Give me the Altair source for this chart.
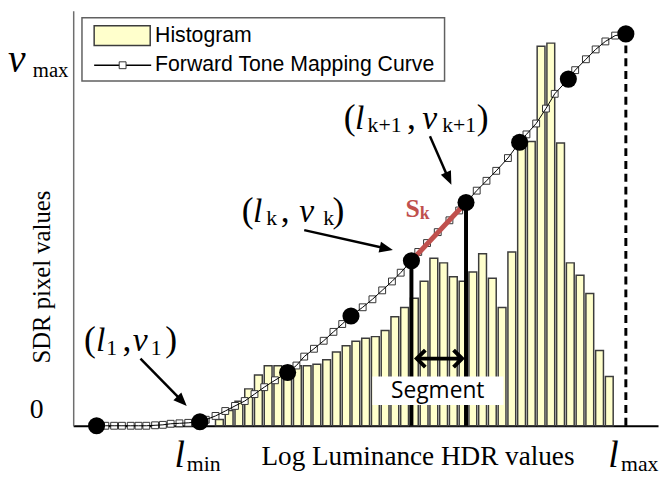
import altair as alt
import pandas as pd

# ---------------- data ----------------
# histogram: bin centres on the log-luminance axis and their heights
hist_bin = [15, 16, 17, 18, 19, 20, 21, 22, 23, 24, 25, 26, 27, 28, 29, 30, 31, 32, 33, 34,
            35, 36, 37, 38, 39, 40, 41, 42, 43, 44, 45, 46, 47, 48, 49, 50, 51, 52, 53, 54, 55]
hist_count = [4, 10, 16, 24, 33, 39, 39, 39, 39, 39, 40, 43, 48, 52, 55, 57, 58, 62, 71, 77,
              83, 94, 109, 106, 97, 94, 100, 112, 96, 77, 113, 185, 185, 247, 249, 184, 106, 98, 86, 49, 32]

# forward tone mapping curve (square markers)
curve_l = [2.4, 3.3, 4.2, 5.0, 5.9, 6.7, 7.5, 8.4, 9.2, 10.0, 10.9, 11.8, 13.0, 13.6, 14.6, 15.6,
           16.6, 17.6, 18.6, 19.6, 20.7, 22.0, 22.9, 23.7, 24.7, 25.7, 26.7, 27.6, 28.5, 29.7,
           30.7, 31.7, 32.7, 33.6, 34.7, 35.4, 36.3, 37.4, 38.6, 39.6, 40.3, 41.4, 42.4, 43.4,
           44.6, 45.8, 46.5, 47.5, 48.5, 49.4, 50.8, 51.5, 52.6, 53.6, 54.6, 55.6, 56.7]
curve_v = [0, 0, 0, 0, 0, 0, 0, 0.3, 0.6, 1.3, 1.6, 1.9, 2.6, 3.9, 6.4, 9.6, 12.9, 16.1, 20.6,
           25.1, 29.6, 34.7, 39.2, 45.0, 50.1, 55.3, 61.1, 66.2, 71.4, 77.1, 82.3, 88.1, 93.9,
           99.6, 107.4, 113.1, 118.9, 126.0, 133.7, 140.1, 145.3, 153.0, 159.4, 165.9, 174.2,
           184.5, 189.6, 196.7, 206.4, 216.0, 225.6, 231.4, 238.5, 244.9, 250.1, 253.9, 255.0]

# pivot points (big black dots)
knot_l = [2.4, 13.0, 22.0, 28.5, 34.7, 40.3, 45.8, 50.8, 56.7]
knot_v = [0, 2.6, 34.7, 71.4, 107.4, 145.3, 184.5, 225.6, 255.0]
k_index = 4

# annotation arrows: tail, shaft end, tip, head angle
arrow_tail_l = [6.9, 23.7, 36.6]
arrow_tail_v = [43.7, 127.3, 188.4]
arrow_end_l = [11.1, 32.0, 38.45]
arrow_end_v = [16.5, 115.5, 161.5]
arrow_tip_l = [11.65, 32.8, 38.8]
arrow_tip_v = [12.9, 114.4, 156.9]
arrow_angle = [135.6, 102.5, 155.8]

# segment double arrow
seg_arrow_l = [35.25, 39.9]
seg_arrow_v = 43.7

# label pieces: text, l, v, size, kind
label_t = ["v", "max", "0",
           "(", "l", "1", ",", "v", "1", ")",
           "(", "l", "k", ",", "v", "k", ")",
           "(", "l", "k+1", ",", "v", "k+1", ")",
           "l", "min", "l", "max",
           "S", "k"]
label_l = [-6.7, -4.15, -4.45,
           1.1, 2.35, 3.4, 5.05, 6.1, 7.95, 9.45,
           17.3, 18.45, 19.8, 21.3, 23.2, 25.65, 26.6,
           27.75, 28.9, 30.2, 34.25, 35.8, 37.85, 41.4,
           10.4, 11.65, 54.9, 56.2,
           34.1, 35.55]
label_v = [230.1, 226.9, 5.1,
           48.9, 48.9, 46.3, 48.9, 48.9, 46.3, 48.9,
           132.4, 132.4, 130.5, 132.4, 132.4, 130.5, 132.4,
           192.9, 192.9, 190.9, 192.9, 192.9, 190.9, 192.9,
           -27.0, -29.6, -27.0, -29.6,
           135.6, 134.4]
label_size = [40, 21, 28,
              36, 34, 22, 36, 34, 22, 36,
              36, 34, 22, 36, 34, 22, 36,
              36, 34, 22, 36, 34, 22, 36,
              38, 22, 38, 22,
              26, 18]
label_kind = ["it", "up", "up",
              "up", "it", "up", "up", "it", "up", "up",
              "up", "it", "up", "up", "it", "up", "up",
              "up", "it", "up", "up", "it", "up", "up",
              "it", "up", "it", "up",
              "red", "red"]

legend_labels = ["Histogram", "Forward Tone Mapping Curve"]
segment_label = "Segment"

# ---------------- styling ----------------
SERIF = "Liberation Serif"
SANS = "Liberation Sans"
BAR_FILL = "#FFFFCC"
BAR_STROKE = "#3C3C3C"
RED = "#C0504D"

x_scale = alt.Scale(domain=[0, 60], nice=False, zero=False)
y_scale = alt.Scale(domain=[0, 270], nice=False, zero=False)
x_axis = alt.Axis(title="Log Luminance HDR values", domain=True, domainColor="black",
                  domainWidth=2, ticks=False, labels=False, grid=False,
                  titleFont=SERIF, titleFontSize=27.5, titleFontWeight="normal",
                  titleColor="black", titleX=348.5, titleY=39, titleBaseline="alphabetic",
                  titleAlign="center")
y_axis = alt.Axis(title="SDR pixel values", domain=True, domainColor="#6E6E6E",
                  domainWidth=1.5, ticks=False, labels=False, grid=False,
                  titleFont=SERIF, titleFontSize=25, titleFontWeight="normal",
                  titleColor="black", titleAngle=270, titleX=-32, titleY=269,
                  titleBaseline="middle", titleAlign="center")


def X(f):
    return alt.X(f, type="quantitative", scale=x_scale, axis=x_axis)


def Y(f):
    return alt.Y(f, type="quantitative", scale=y_scale, axis=y_axis)


hist_df = pd.DataFrame({"l": hist_bin, "count": hist_count})
hist_df["l0"] = hist_df["l"] - 0.4
hist_df["l1"] = hist_df["l"] + 0.4
hist_df["zero"] = 0

bars = alt.Chart(hist_df).mark_rect(fill=BAR_FILL, stroke=BAR_STROKE, strokeWidth=1.5).encode(
    x=X("l0"), x2="l1", y=Y("zero"), y2="count")

curve_df = pd.DataFrame({"l": curve_l, "v": curve_v})
squares = alt.Chart(curve_df).mark_square(size=48, fill="white", stroke="#333333",
                                          strokeWidth=1, opacity=1, fillOpacity=1).encode(
    x=X("l"), y=Y("v"))
line = alt.Chart(curve_df).mark_line(color="black", strokeWidth=1).encode(
    x=X("l"), y=Y("v"), order="l:Q")

seg_df = pd.DataFrame({"l": knot_l[k_index:k_index + 2], "v": knot_v[k_index:k_index + 2]})
seg_df["zero"] = 0
vrules = alt.Chart(seg_df).mark_rule(color="black", strokeWidth=4).encode(
    x=X("l"), y=Y("zero"), y2="v")
red_seg = alt.Chart(seg_df).mark_line(color=RED, strokeWidth=5).encode(
    x=X("l"), y=Y("v"), order="l:Q")

max_df = pd.DataFrame({"l": [knot_l[-1]], "v": [knot_v[-1]], "zero": [0]})
dashed = alt.Chart(max_df).mark_rule(color="black", strokeWidth=3, strokeDash=[8, 5]).encode(
    x=X("l"), y=Y("zero"), y2="v")

knot_df = pd.DataFrame({"l": knot_l, "v": knot_v})
dots = alt.Chart(knot_df).mark_circle(size=300, color="black", opacity=1).encode(
    x=X("l"), y=Y("v"))

arrow_df = pd.DataFrame({"tl": arrow_tail_l, "tv": arrow_tail_v, "el": arrow_end_l,
                         "ev": arrow_end_v, "pl": arrow_tip_l, "pv": arrow_tip_v,
                         "ang": arrow_angle})
shafts = alt.Chart(arrow_df).mark_rule(color="black", strokeWidth=2.5).encode(
    x=X("tl"), y=Y("tv"), x2="el", y2="ev")
heads = alt.Chart(arrow_df).mark_point(shape="M0,0L0.7,1.7L-0.7,1.7Z", filled=True,
                                       color="black", size=256, opacity=1).encode(
    x=X("pl"), y=Y("pv"), angle=alt.Angle("ang:Q", scale=None))

dbl_df = pd.DataFrame({"l": seg_arrow_l, "v": [seg_arrow_v, seg_arrow_v],
                       "shape": ["M1,-1L0,0L1,1", "M-1,-1L0,0L-1,1"]})
dbl_line = alt.Chart(dbl_df).mark_line(color="black", strokeWidth=4).encode(
    x=X("l"), y=Y("v"), order="l:Q")
dbl_heads = alt.Chart(dbl_df).mark_point(filled=False, color="black", strokeWidth=4,
                                         size=300, opacity=1).encode(
    x=X("l"), y=Y("v"), shape=alt.Shape("shape:N", scale=None))

segbox_df = pd.DataFrame({"l0": [30.7], "l1": [44.15], "v0": [13.5], "v1": [32.1],
                          "lc": [37.4], "vc": [22.8], "t": [segment_label]})
seg_box = alt.Chart(segbox_df).mark_rect(fill="white").encode(
    x=X("l0"), x2="l1", y=Y("v0"), y2="v1")
seg_text = alt.Chart(segbox_df).mark_text(font="Open Sans", fontSize=23, color="black",
                                          align="center", baseline="middle").encode(
    x=X("lc"), y=Y("vc"), text="t:N")

lab_df = pd.DataFrame({"t": label_t, "l": label_l, "v": label_v, "s": label_size,
                       "kind": label_kind})


def label_layer(kind, **kw):
    return alt.Chart(lab_df).transform_filter(alt.datum.kind == kind).mark_text(
        align="left", baseline="alphabetic", **kw).encode(
        x=X("l"), y=Y("v"), text="t:N", size=alt.Size("s:Q", scale=None))


lab_it = label_layer("it", font=SERIF, fontStyle="italic", color="black")
lab_up = label_layer("up", font=SERIF, color="black")
lab_red = label_layer("red", font=SERIF, fontWeight="bold", color=RED)

# legend drawn in the top-left corner of the plot
leg_box_df = pd.DataFrame({"l0": [0.9], "l1": [38.1], "v0": [224.4], "v1": [265.5]})
leg_box = alt.Chart(leg_box_df).mark_rect(fill="white", stroke="#606060", strokeWidth=1.5).encode(
    x=X("l0"), x2="l1", y=Y("v0"), y2="v1")
leg_sw_df = pd.DataFrame({"l0": [2.15], "l1": [7.9], "v0": [247.5], "v1": [260.3]})
leg_sw = alt.Chart(leg_sw_df).mark_rect(fill=BAR_FILL, stroke=BAR_STROKE, strokeWidth=1.5).encode(
    x=X("l0"), x2="l1", y=Y("v0"), y2="v1")
leg_line_df = pd.DataFrame({"l": [2.15, 8.0], "v": [234.6, 234.6]})
leg_line = alt.Chart(leg_line_df).mark_line(color="black", strokeWidth=1.5).encode(
    x=X("l"), y=Y("v"), order="l:Q")
leg_sq_df = pd.DataFrame({"l": [5.07], "v": [234.6]})
leg_sq = alt.Chart(leg_sq_df).mark_square(size=48, fill="white", stroke="#333333",
                                          strokeWidth=1, opacity=1, fillOpacity=1).encode(
    x=X("l"), y=Y("v"))
leg_txt_df = pd.DataFrame({"t": legend_labels, "l": [8.4, 8.4], "v": [253.9, 234.6]})
leg_txt = alt.Chart(leg_txt_df).mark_text(font=SANS, fontSize=21.5, color="black",
                                          align="left", baseline="middle").encode(
    x=X("l"), y=Y("v"), text="t:N")

chart = alt.layer(
    bars, squares, line, vrules, red_seg, dashed, dots, shafts, heads,
    dbl_line, dbl_heads, seg_box, seg_text, lab_it, lab_up, lab_red,
    leg_box, leg_sw, leg_line, leg_sq, leg_txt
).properties(
    width=592, height=420,
    padding={"left": 66, "top": 0, "right": 2, "bottom": 50},
    autosize=alt.AutoSizeParams(type="none"),
    background="white",
).configure_view(stroke=None)

chart.save("out.html", embed_options={"renderer": "svg", "actions": False})
